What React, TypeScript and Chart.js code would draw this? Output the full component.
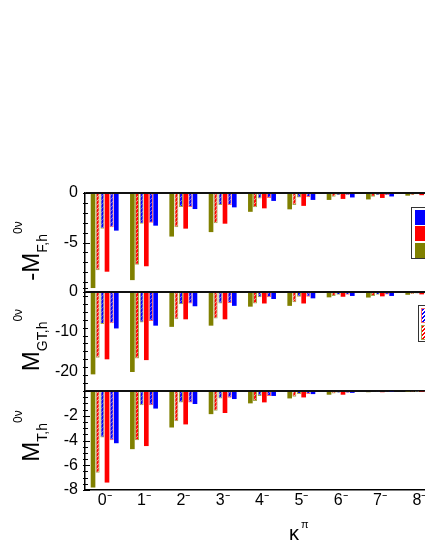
import React, { useEffect, useRef } from 'react';
import { Chart, registerables } from 'chart.js';

Chart.register(...registerables);

const FONT = "'Liberation Sans', Arial, Helvetica, sans-serif";

const categories = ['0⁻', '1⁻', '2⁻', '3⁻', '4⁻', '5⁻', '6⁻', '7⁻', '8⁻'];

// Panel 1: -M^{0v}_{F,h}
const fOlive = [-9.6, -8.8, -4.4, -3.95, -1.9, -1.65, -0.7, -0.65, -0.27];
const fRedHatch = [-7.8, -7.25, -3.45, -3.05, -1.45, -1.2, -0.37, -0.37, -0.2];
const fBlueHatchOlive = [-3.6, -3.1, -1.42, -1.2, -0.55, -0.45, -0.2, -0.2, -0.12];
const fRed = [-7.95, -7.4, -3.6, -3.1, -1.55, -1.3, -0.6, -0.5, -0.22];
const fBlueHatchRed = [-3.45, -3.0, -1.42, -1.2, -0.5, -0.4, -0.2, -0.2, -0.12];
const fBlue = [-3.8, -3.3, -1.62, -1.45, -0.8, -0.7, -0.45, -0.35, -0.15];

// Panel 2: M^{0v}_{GT,h}
const gtOlive = [-20.8, -20.2, -8.8, -8.5, -3.7, -3.5, -1.35, -1.4, -0.7];
const gtRedHatch = [-16.6, -16.8, -6.9, -6.7, -2.9, -2.6, -1.0, -1.0, -0.5];
const gtBlueHatchOlive = [-8.1, -7.7, -3.1, -2.9, -1.35, -1.2, -0.7, -0.7, -0.35];
const gtRed = [-17.0, -17.2, -6.9, -6.9, -2.9, -2.9, -1.2, -1.1, -0.6];
const gtBlueHatchRed = [-7.9, -7.3, -2.9, -2.8, -1.35, -1.2, -0.7, -0.6, -0.35];
const gtBlue = [-9.2, -8.5, -3.6, -3.5, -1.77, -1.6, -1.0, -1.0, -0.45];

// Panel 3: M^{0v}_{T,h}
const tOlive = [-7.8, -4.7, -2.95, -1.87, -1.0, -0.6, -0.3, -0.1, -0.05];
const tRedHatch = [-6.6, -3.97, -2.45, -1.6, -0.8, -0.46, -0.2, -0.08, -0.04];
const tBlueHatchOlive = [-3.75, -1.15, -0.92, -0.6, -0.4, -0.25, -0.15, -0.06, -0.03];
const tRed = [-7.4, -4.45, -2.7, -1.78, -0.92, -0.52, -0.3, -0.1, -0.05];
const tBlueHatchRed = [-3.97, -1.15, -0.92, -0.55, -0.4, -0.25, -0.15, -0.06, -0.03];
const tBlue = [-4.22, -1.42, -1.05, -0.65, -0.4, -0.25, -0.15, -0.06, -0.03];

const panelIds = ['yF', 'yGT', 'yT'];
const panelNames = ['F,h', 'GT,h', 'T,h'];
const panelPrefix = ['-', '', ''];
const panelMin = [-10, -25, -8];
const panelMax = [0, 0, 0];
const panelTicks = [
  [0, -5],
  [0, -10, -20],
  [0, -2, -4, -6, -8],
];
const panelHiddenLabels = [[], [], [0]];
const panelMajor = [5, 10, 2];
const panelMinor = [1, 2, 0.5];
const panelWeight = [3, 2, 1];
const panelData = [
  [fOlive, fRedHatch, fBlueHatchOlive, fRed, fBlueHatchRed, fBlue],
  [gtOlive, gtRedHatch, gtBlueHatchOlive, gtRed, gtBlueHatchRed, gtBlue],
  [tOlive, tRedHatch, tBlueHatchOlive, tRed, tBlueHatchRed, tBlue],
];

const seriesNames = ['olive', 'red hatch', 'blue hatch (olive)', 'red', 'blue hatch (red)', 'blue'];
const seriesColor = ['#808000', '#ff0000', '#0000ff', '#ff0000', '#0000ff', '#0000ff'];
const seriesHatched = [false, true, true, false, true, false];
const seriesHatchWidth = [0, 2.3, 2.6, 0, 2.6, 0];
const seriesBorder = ['#808000', '#a8a850', '#a8a850', '#ff0000', '#ff6a6a', '#0000ff'];
const seriesBorderWidth = [0, 1, 1, 0, 1, 0];
const seriesBarPct = [1.0, 0.85, 0.85, 1.0, 0.9, 1.0];

function makeHatch(color: string, lw: number): CanvasPattern | string {
  const s = 4;
  const c = document.createElement('canvas');
  c.width = s;
  c.height = s;
  const g = c.getContext('2d');
  if (!g) return color;
  g.fillStyle = '#ffffff';
  g.fillRect(0, 0, s, s);
  g.strokeStyle = color;
  g.lineWidth = lw;
  g.beginPath();
  g.moveTo(-1, 1);
  g.lineTo(1, -1);
  g.moveTo(0, s);
  g.lineTo(s, 0);
  g.moveTo(s - 1, s + 1);
  g.lineTo(s + 1, s - 1);
  g.stroke();
  return g.createPattern(c, 'repeat') || color;
}

const innerTicks = {
  id: 'innerTicks',
  afterDatasetsDraw(chart: any) {
    const ctx = chart.ctx;
    ctx.save();
    ctx.strokeStyle = '#000';
    ctx.lineWidth = 1;
    panelIds.forEach((id, p) => {
      const sc = chart.scales[id];
      if (!sc) return;
      const x0 = sc.right;
      const n = Math.round((panelMax[p] - panelMin[p]) / panelMinor[p]);
      for (let i = 0; i <= n; i++) {
        const v = panelMin[p] + i * panelMinor[p];
        const r = v / panelMajor[p];
        const major = Math.abs(r - Math.round(r)) < 1e-6;
        const y = Math.round(sc.getPixelForValue(v)) + 0.5;
        ctx.beginPath();
        ctx.moveTo(x0 - 2, y);
        ctx.lineTo(x0 + (major ? 5 : 3), y);
        ctx.stroke();
      }
    });
    ctx.restore();
  },
};

function YTitle({ cx, cy, prefix, sub }: { cx: number; cy: number; prefix: string; sub: string }) {
  return (
    <div
      style={{
        position: 'absolute',
        left: cx,
        top: cy,
        transform: 'translate(-50%, -50%) rotate(-90deg)',
        whiteSpace: 'nowrap',
        fontFamily: FONT,
        fontSize: 24,
        lineHeight: '24px',
        color: '#000',
      }}
    >
      {prefix}M
      <span style={{ fontSize: 14, lineHeight: 1, position: 'relative', top: 8 }}>{sub}</span>
      <span style={{ fontSize: 12, lineHeight: 1, position: 'relative', top: -17 }}>0ν</span>
    </div>
  );
}

const hatchCss = (c: string) => `repeating-linear-gradient(135deg, ${c} 0 1.8px, #fff 1.8px 2.9px)`;

export default function App() {
  const canvasRef = useRef<HTMLCanvasElement | null>(null);

  useEffect(() => {
    const canvas = canvasRef.current;
    if (!canvas) return;
    Chart.defaults.font.family = FONT;

    const datasets: any[] = [];
    panelIds.forEach((yid, p) => {
      seriesNames.forEach((name, s) => {
        datasets.push({
          label: `${panelNames[p]} ${name}`,
          data: panelData[p][s],
          yAxisID: yid,
          stack: 'slot' + s,
          backgroundColor: seriesHatched[s] ? makeHatch(seriesColor[s], seriesHatchWidth[s]) : seriesColor[s],
          borderColor: seriesBorder[s],
          borderWidth: seriesBorderWidth[s],
          borderSkipped: 'start',
          barPercentage: seriesBarPct[s],
          categoryPercentage: 0.71,
        });
      });
    });

    const scales: any = {
      x: {
        type: 'category',
        offset: true,
        grid: { display: false, drawTicks: false },
        border: { display: true, color: '#000', width: 1.5 },
        ticks: { color: '#000', font: { size: 16, family: FONT }, padding: 1, maxRotation: 0, autoSkip: false },
        afterFit: (s: any) => {
          s.height = 60;
        },
      },
    };
    panelIds.forEach((id, p) => {
      scales[id] = {
        type: 'linear',
        position: 'left',
        stack: 'panels',
        stackWeight: 1,
        weight: panelWeight[p],
        stacked: false,
        min: panelMin[p],
        max: panelMax[p],
        afterBuildTicks: (s: any) => {
          s.ticks = panelTicks[p].map((v) => ({ value: v }));
        },
        afterFit: (s: any) => {
          s.width = 85;
        },
        ticks: {
          color: '#000',
          font: { size: 16, family: FONT },
          padding: 7,
          autoSkip: false,
          callback: (v: any) => (panelHiddenLabels[p].includes(v) ? '' : String(v)),
        },
        grid: {
          drawTicks: false,
          color: (c: any) => (c.tick && c.tick.value === 0 ? '#111' : 'rgba(0,0,0,0)'),
          lineWidth: 2,
        },
        border: { display: true, color: '#000', width: 1.5 },
      };
    });

    const chart = new Chart(canvas, {
      type: 'bar',
      data: { labels: categories, datasets },
      options: {
        responsive: false,
        animation: false,
        layout: { padding: { top: 193, right: 6, left: 0, bottom: 0 } },
        plugins: { legend: { display: false }, tooltip: { enabled: false } },
        scales,
      },
      plugins: [innerTicks],
    } as any);
    return () => chart.destroy();
  }, []);

  const sw = { position: 'absolute' as const, left: 3, width: 24, height: 15 };

  return (
    <div style={{ position: 'fixed', left: 0, top: 0, width: 425, height: 550, overflow: 'hidden', background: '#fff' }}>
      <canvas ref={canvasRef} width={445} height={550} style={{ position: 'absolute', left: 0, top: 0, display: 'block' }} />
      <YTitle cx={31} cy={251} prefix={panelPrefix[0]} sub={panelNames[0]} />
      <YTitle cx={31} cy={340} prefix={panelPrefix[1]} sub={panelNames[1]} />
      <YTitle cx={31} cy={436} prefix={panelPrefix[2]} sub={panelNames[2]} />
      <div style={{ position: 'absolute', left: 289, top: 523, fontFamily: FONT, fontSize: 20, lineHeight: '20px', whiteSpace: 'nowrap', color: '#000' }}>
        κ<span style={{ fontSize: 11, lineHeight: 1, position: 'relative', top: -12, marginLeft: 2 }}>π</span>
      </div>
      <div style={{ position: 'absolute', left: 411, top: 207, width: 60, height: 52, border: '1px solid #333', background: '#fff', boxSizing: 'border-box' }}>
        <div style={{ ...sw, top: 2, background: '#0000ff' }} />
        <div style={{ ...sw, top: 18, background: '#ff0000' }} />
        <div style={{ ...sw, top: 35, background: '#808000' }} />
      </div>
      <div style={{ position: 'absolute', left: 418, top: 305, width: 60, height: 37, border: '1px solid #333', background: '#fff', boxSizing: 'border-box' }}>
        <div style={{ ...sw, left: 2, top: 2, background: hatchCss('#0000ff'), border: '1px solid #ff6a6a', boxSizing: 'border-box' }} />
        <div style={{ ...sw, left: 2, top: 19, background: hatchCss('#ff0000'), border: '1px solid #a8a850', boxSizing: 'border-box' }} />
      </div>
    </div>
  );
}
